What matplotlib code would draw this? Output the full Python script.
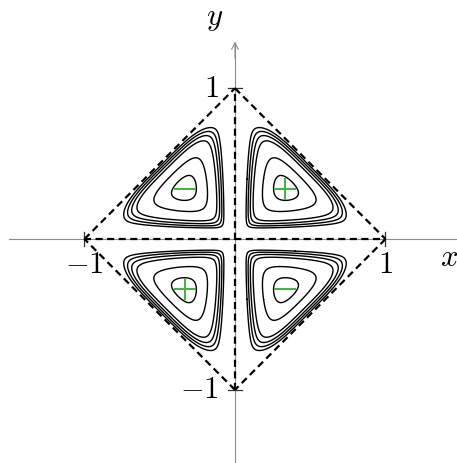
import numpy as np
import matplotlib.pyplot as plt

plt.rcParams['mathtext.fontset'] = 'cm'

# distance of each ring from the x axis, measured at x = 0.4 (outermost first)
ring_offset = [0.08, 0.094, 0.109, 0.128, 0.19]
# innermost ring as a fraction of the cell maximum
core_frac = 0.955

# corners of the square |x| + |y| = 1
corner_x = [-1, 0, 1, 0]
corner_y = [0, 1, 0, -1]

# tick positions and labels on both axes
ticks = [-1, 1]
tick_labels = ['$-1$', '$1$']

green = '#4daf4a'
axis_grey = '#8c8c8c'


def field(x, y, n=4):
    # soft minimum of the distances to the three sides of each cell
    ax_, ay_ = np.abs(x), np.abs(y)
    p = (1 - ax_ - ay_) / np.sqrt(2)
    t = ax_ - ay_
    d1 = ax_ * (1 - 0.6 * ay_**2) * (1 - ax_)
    d2 = ay_ * (1 - 0.6 * ax_**2) * (1 - ay_)
    d3 = (0.056 + 0.815 * p) * np.exp(-4 * t**4)
    with np.errstate(divide='ignore'):
        f = (d1**-n + d2**-n + d3**-n) ** (-1.0 / n)
    return np.where(p > 0, f, 0.0)


g = np.linspace(-1, 1, 1201)
X, Y = np.meshgrid(g, g)
F = field(X, Y)
levels = list(field(0.4, np.array(ring_offset))) + [core_frac * F.max()]

fig = plt.figure(figsize=(4.57, 4.63), dpi=100)
ax = fig.add_axes([0, 0, 1, 1])
ax.set_xlim(-1.561, 1.475)
ax.set_ylim(-1.485, 1.585)
ax.axis('off')

# coordinate axes
ax.plot([-1.5, 1.5], [0, 0], color=axis_grey, lw=0.8, zorder=1)
ax.plot([0, 0], [-1.5, 1.3], color=axis_grey, lw=0.8, zorder=1)
ax.annotate('', xy=(0, 1.31), xytext=(0, 1.2),
            arrowprops=dict(arrowstyle='->', color=axis_grey, lw=0.8,
                            mutation_scale=12, shrinkA=0, shrinkB=0))
ax.annotate('', xy=(1.55, 0), xytext=(1.4, 0),
            arrowprops=dict(arrowstyle='->', color=axis_grey, lw=0.8,
                            mutation_scale=12, shrinkA=0, shrinkB=0))

# ticks and labels
for v, lab in zip(ticks, tick_labels):
    ax.plot([v, v], [-0.045, 0.045], color='#333333', lw=0.9, zorder=2)
    ax.plot([-0.045, 0.045], [v, v], color='#333333', lw=0.9, zorder=2)
    ax.text(v, -0.075, lab, ha='center', va='top', fontsize=22)
    ax.text(-0.11, v, lab, ha='right', va='center', fontsize=22)
ax.text(1.42, -0.12, '$x$', ha='center', va='center', fontsize=22)
ax.text(-0.133, 1.42, '$y$', ha='center', va='baseline', fontsize=22)

# dashed square and the dashed axis segments inside it
dash = dict(color='k', lw=1.6, ls=(0, (3.2, 2.0)), zorder=3)
for i in range(4):
    j = (i + 1) % 4
    ax.plot([corner_x[i], corner_x[j]], [corner_y[i], corner_y[j]], **dash)
ax.plot([corner_x[0], corner_x[2]], [corner_y[0], corner_y[2]], **dash)
ax.plot([corner_x[3], corner_x[1]], [corner_y[3], corner_y[1]], **dash)

# level curves of the four cells
ax.contour(X, Y, F, levels=levels, colors='k', linewidths=1.0, zorder=4)

# sign of each cell at its maximum
r = 0.064
for sx in (-1, 1):
    for sy in (-1, 1):
        q = np.where((X * sx > 0) & (Y * sy > 0), F, -1)
        k = np.unravel_index(np.argmax(q), q.shape)
        cx, cy = X[k], Y[k]
        ax.plot([cx - r, cx + r], [cy, cy], color=green, lw=1.5, zorder=5)
        if sx * sy > 0:
            ax.plot([cx, cx], [cy - r, cy + r], color=green, lw=1.5, zorder=5)

fig.savefig('out.png', dpi=100)
